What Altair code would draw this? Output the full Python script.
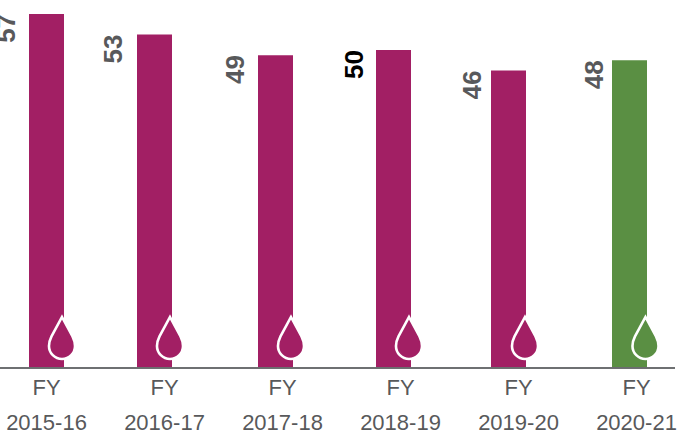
import altair as alt
import pandas as pd

years = ["2015-16", "2016-17", "2017-18", "2018-19", "2019-20", "2020-21"]
values = [57, 53, 49, 50, 46, 48]
bar_colors = ["#a21f64"] * 5 + ["#5a8f43"]
value_colors = ["#58595b", "#58595b", "#58595b", "#000000", "#58595b", "#58595b"]

# Horizontal placement along the year axis, one entry per fiscal year
year_centre = [46.5, 164.5, 282.5, 400.5, 518.5, 636.5]
bar_shift = [0, -10, -7, -7, -10, -7]
value_shift = [-39.5, -51, -46.5, -45.5, -46, -42]
drop_shift = [15.5, 5.5, 8.5, 8.5, 6.5, 9]

df = pd.DataFrame(
    {
        "year": years,
        "value": values,
        "bar_color": bar_colors,
        "value_color": value_colors,
        "centre": year_centre,
        "bar_x": [c + s for c, s in zip(year_centre, bar_shift)],
        "value_x": [c + s for c, s in zip(year_centre, value_shift)],
        "drop_x": [c + s for c, s in zip(year_centre, drop_shift)],
        "label": ["FY\n" + y for y in years],
    }
)

W, H = 684, 434
x_scale = alt.Scale(domain=[0, W], range=[0, W], nice=False, zero=False, padding=0)
y_scale = alt.Scale(domain=[-24.5, 59.7], range=[H, 0], nice=False, zero=False)
BAR_BASE = -11.7
FONT = "Liberation Sans"
DROP = (
    "M0,-1 L0.5,-0.08 C0.58,0.08 0.62,0.22 0.62,0.38 "
    "A0.62,0.62 0 1 1 -0.62,0.38 C-0.62,0.22 -0.58,0.08 -0.5,-0.08 Z"
)

base = alt.Chart(df)

bars = base.mark_bar(size=35).encode(
    x=alt.X("bar_x:Q", scale=x_scale, axis=None),
    y=alt.Y("value:Q", scale=y_scale, axis=None, stack=None),
    y2=alt.Y2(datum=BAR_BASE),
    color=alt.Color("bar_color:N", scale=None),
)

baseline = base.mark_rule(color="#6d6e71", strokeWidth=1.2).encode(
    x=alt.value(0), x2=alt.value(675), y=alt.value(368)
)

drops = base.mark_point(
    shape=DROP, size=1764, filled=True, stroke="white", strokeWidth=2.6, opacity=1
).encode(
    x=alt.X("drop_x:Q", scale=x_scale, axis=None),
    y=alt.value(338),
    fill=alt.Color("bar_color:N", scale=None),
)

value_labels = base.mark_text(
    angle=270, align="right", baseline="middle", font=FONT, fontWeight="bold", fontSize=26
).encode(
    x=alt.X("value_x:Q", scale=x_scale, axis=None),
    y=alt.Y("value:Q", scale=y_scale, axis=None),
    text=alt.Text("value:Q"),
    color=alt.Color("value_color:N", scale=None),
)

year_labels = base.mark_text(
    align="center", baseline="top", font=FONT, fontSize=22, color="#58595b",
    lineBreak="\n", lineHeight=35,
).encode(
    x=alt.X("centre:Q", scale=x_scale, axis=None),
    y=alt.value(378),
    text="label:N",
)

chart = (
    alt.layer(bars, baseline, drops, value_labels, year_labels)
    .properties(width=W, height=H, padding=0, autosize=alt.AutoSizeParams(type="none"))
    .configure_view(stroke=None)
)

chart.save("out.html", embed_options={"renderer": "svg", "actions": False})
